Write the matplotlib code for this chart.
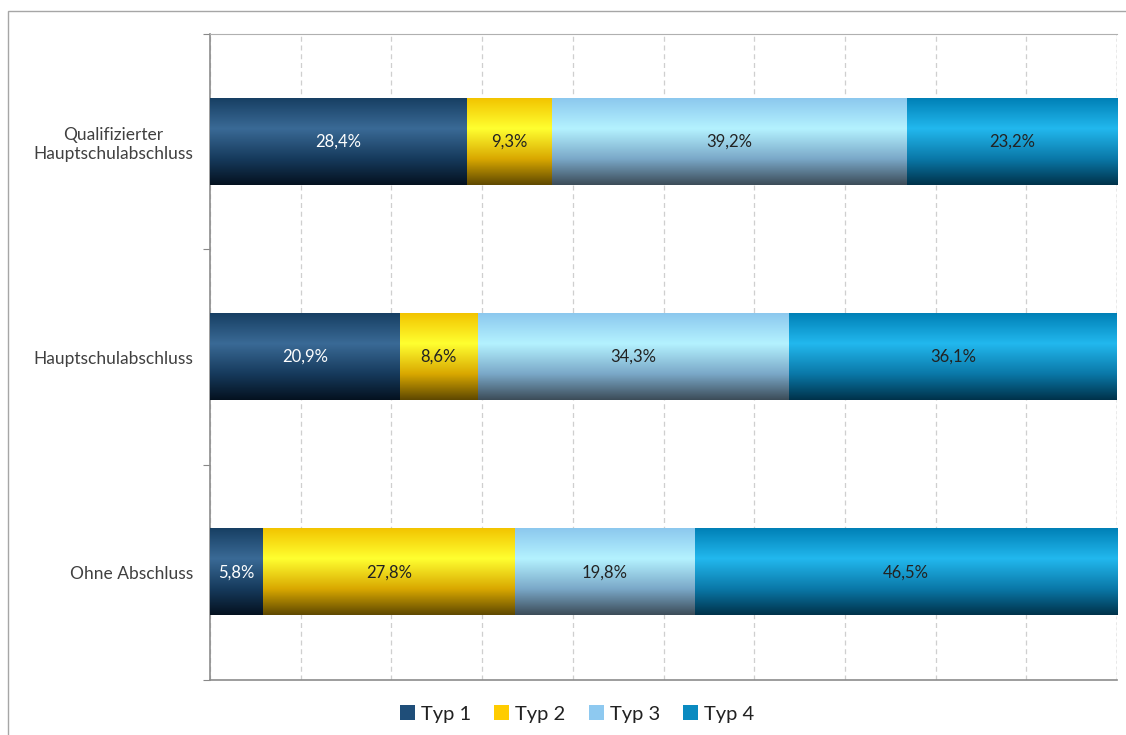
import numpy as np
import matplotlib
matplotlib.use("Agg")
import matplotlib.pyplot as plt
from matplotlib.colors import LinearSegmentedColormap
from matplotlib.patches import Patch, Rectangle

plt.rcParams['font.family'] = ['Lato', 'DejaVu Sans']

categories = ["Ohne Abschluss", "Hauptschulabschluss", "Qualifizierter\nHauptschulabschluss"]
series_names = ["Typ 1", "Typ 2", "Typ 3", "Typ 4"]
typ1 = [5.8, 20.9, 28.4]
typ2 = [27.8, 8.6, 9.3]
typ3 = [19.8, 34.3, 39.2]
typ4 = [46.5, 36.1, 23.2]
series = [typ1, typ2, typ3, typ4]

legend_colors = ["#1f4e79", "#ffcc00", "#8ec9f0", "#0a8ac0"]
grad_stops = [
    ["#173f63", "#3a6a96", "#163a5c", "#04111f"],
    ["#f2c400", "#ffff30", "#d9a800", "#5e4800"],
    ["#8cc8ee", "#b4f2ff", "#7aa8c8", "#3c4c58"],
    ["#0080b6", "#22b8ee", "#0a78a8", "#00324a"],
]
text_colors = ["white", "#222222", "#222222", "#222222"]

fig = plt.figure(figsize=(11.26, 7.35), dpi=100)
W, H = 1126, 735
ax = fig.add_axes([210 / W, 1 - 680 / H, 907 / W, 646 / H])

# outer chart border
fig.patches.append(Rectangle((8 / W, -0.1), 1.2, 1 - 11 / H + 0.1,
                             transform=fig.transFigure, fill=False,
                             edgecolor="#a6a6a6", linewidth=1.0))

y = np.arange(len(categories))
bar_h = 0.4
totals = np.sum(np.array(series), axis=0)
grad = np.linspace(0, 1, 256).reshape(-1, 1)

left = np.zeros(len(categories))
for si, vals in enumerate(series):
    cmap = LinearSegmentedColormap.from_list(
        f"g{si}", list(zip([0.0, 0.35, 0.7, 1.0], grad_stops[si])))
    for ci in range(len(categories)):
        w = vals[ci] / totals[ci] * 100
        ax.imshow(grad, extent=[left[ci], left[ci] + w, y[ci] - bar_h / 2, y[ci] + bar_h / 2],
                  origin="upper", aspect="auto", cmap=cmap, zorder=3, interpolation="bilinear")
        ax.text(left[ci] + w / 2, y[ci], f"{vals[ci]:.1f}%".replace(".", ","),
                ha="center", va="center", fontsize=12, color=text_colors[si], zorder=4)
        left[ci] += w

ax.set_xlim(0, 100)
ax.set_ylim(-0.5, 2.5)
ax.set_xticks(np.arange(0, 101, 10))
ax.set_xticklabels([])
ax.tick_params(axis="x", length=0)
ax.grid(axis="x", linestyle=(0, (4, 3)), color="#cfcfcf", linewidth=0.9, zorder=0)
ax.set_yticks([-0.5, 0.5, 1.5, 2.5])
ax.set_yticklabels([])
ax.tick_params(axis="y", which="major", length=5, color="#888888", direction="out")
ax.set_yticks(y, minor=True)
ax.set_yticklabels(categories, minor=True, fontsize=12.5, color="#404040", ha="right",
                   multialignment="center")
ax.tick_params(axis="y", which="minor", length=0, pad=12)

for s in ["left", "bottom"]:
    ax.spines[s].set_color("#8c8c8c")
    ax.spines[s].set_linewidth(1.2)
ax.spines["top"].set_color("#b0b0b0")
ax.spines["right"].set_visible(False)
ax.axvline(100, color="#9a9a9a", linestyle=(0, (2, 2)), linewidth=1.0, zorder=1)

handles = [Patch(facecolor=c, edgecolor="none") for c in legend_colors]
fig.legend(handles, series_names, loc="center", bbox_to_anchor=(577 / W, 1 - 714 / H),
           ncol=4, frameon=False, fontsize=14.5, handlelength=0.75, handleheight=0.75,
           handletextpad=0.3, columnspacing=1.15, labelcolor="#222222")

fig.savefig("out.png", dpi=100)
